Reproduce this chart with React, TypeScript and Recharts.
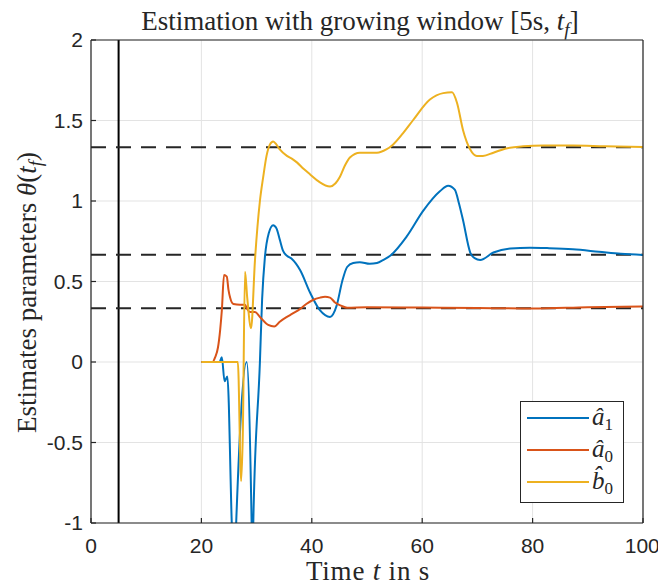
import {
    LineChart,
    Line,
    XAxis,
    YAxis,
    CartesianGrid,
    ReferenceLine,
    Legend
} from 'recharts';

// time stamps and estimates
const a1Time = [20, 22.5, 23.3, 23.7, 24.2, 24.7, 25.5, 25.9, 26.3, 28.2, 29.1, 29.25, 29.4, 30.6, 31.0, 31.5, 32.2, 33.0, 33.6, 34.2, 34.8, 35.5, 36.4, 37.9, 39.7, 41.5, 43.3, 44.5, 45.5, 46.4, 47.5, 48.7, 50.5, 51.8, 53, 54.2, 57.2, 60.2, 63.2, 64.7, 65.9, 66.7, 67.4, 68.7, 69.5, 70.5, 72.9, 76, 79.5, 83, 87.3, 92, 96, 100];
const a1Values = [0, 0, 0, 0.03, -0.12, -0.09, -1.0, -1.4, -1.0, 0, -1.0, -1.3, -1.0, 0, 0.39, 0.65, 0.8, 0.85, 0.83, 0.76, 0.69, 0.66, 0.64, 0.57, 0.43, 0.32, 0.28, 0.35, 0.5, 0.59, 0.615, 0.62, 0.61, 0.615, 0.635, 0.66, 0.78, 0.94, 1.06, 1.095, 1.07, 0.98, 0.88, 0.68, 0.645, 0.634, 0.68, 0.705, 0.71, 0.707, 0.7, 0.685, 0.672, 0.665];

const a0Time = [20, 22, 22.5, 23, 23.4, 23.7, 24.1, 24.6, 24.9, 25.2, 25.8, 27, 27.9, 28.3, 28.8, 29.7, 30.6, 32.1, 33.2, 34.2, 35.5, 36.5, 37.9, 39, 40.2, 41.5, 42.4, 43.3, 44.2, 45.3, 46.4, 50, 60, 70, 80, 90, 100];
const a0Values = [0, 0, 0.03, 0.09, 0.2, 0.32, 0.54, 0.53, 0.45, 0.4, 0.36, 0.355, 0.355, 0.33, 0.31, 0.31, 0.28, 0.23, 0.22, 0.25, 0.28, 0.3, 0.33, 0.36, 0.385, 0.4, 0.405, 0.4, 0.37, 0.35, 0.337, 0.34, 0.338, 0.336, 0.332, 0.34, 0.345];

const b0Time = [20, 26.6, 27.2, 27.5, 27.9, 28.3, 29.0, 29.7, 30.6, 31.2, 31.8, 32.4, 33.0, 33.6, 34.2, 35.5, 36.5, 37.3, 38.5, 39.7, 41.3, 43.3, 44.3, 45.1, 46.0, 46.9, 48.7, 51.8, 53.5, 54.7, 56.5, 58.3, 61.4, 63.8, 65.4, 66.3, 67.4, 68.7, 69.9, 71, 72.9, 75, 78.3, 82, 87.3, 93, 100];
const b0Values = [0, 0, -0.74, -0.45, 0.56, 0.4, 0.21, 0.63, 1.0, 1.15, 1.28, 1.35, 1.37, 1.35, 1.32, 1.28, 1.26, 1.24, 1.2, 1.165, 1.12, 1.09, 1.11, 1.15, 1.22, 1.27, 1.3, 1.3, 1.32, 1.35, 1.42, 1.5, 1.63, 1.67, 1.675, 1.61, 1.44, 1.32, 1.28, 1.28, 1.3, 1.325, 1.34, 1.345, 1.345, 1.34, 1.335];

const trueValues = [2 / 3, 1 / 3, 4 / 3];
const windowStart = 5;
const xTicks = [0, 20, 40, 60, 80, 100];
const yTicks = [-1, -0.5, 0, 0.5, 1, 1.5, 2];

const toPoints = (ts: number[], vs: number[]) => ts.map((t, i) => ({ t, v: vs[i] }));
const a1Data = toPoints(a1Time, a1Values);
const a0Data = toPoints(a0Time, a0Values);
const b0Data = toPoints(b0Time, b0Values);

const axisColor = '#262626';
const serif = '"Liberation Serif", "DejaVu Serif", serif';
const sans = '"Liberation Sans", Arial, sans-serif';
const tickStyle = { fontFamily: sans, fontSize: 21, fill: axisColor };
const subStyle = { fontSize: 19, fontStyle: 'italic' as const, lineHeight: 0 };

const legendRows = [
    { color: '#0072BD', base: 'a\u0302', sub: '1' },
    { color: '#D95319', base: 'a\u0302', sub: '0' },
    { color: '#EDB120', base: 'b\u0302', sub: '0' }
];

function LegendBox() {
    return (
        <svg width={104} height={102} style={{ display: 'block' }}>
            <rect x={0.5} y={0.5} width={103} height={101} fill="#fff" stroke={axisColor} strokeWidth={1} />
            {legendRows.map((r, i) => {
                const y = 17 + i * 32;
                return (
                    <g key={i}>
                        <line x1={7} x2={69} y1={y} y2={y} stroke={r.color} strokeWidth={2} />
                        <text x={72} y={y + 7} fontFamily={serif} fontSize={25} fill={axisColor}>
                            <tspan fontStyle="italic">{r.base}</tspan>
                            <tspan fontSize={17} dy={5}>{r.sub}</tspan>
                        </text>
                    </g>
                );
            })}
        </svg>
    );
}

export default function App() {
    return (
        <div style={{ position: 'absolute', left: 0, top: 0, width: 658, height: 586, background: '#fff' }}>
            <div
                style={{
                    position: 'absolute', left: 360 - 300, width: 600, top: 8, textAlign: 'center',
                    fontFamily: serif, fontSize: 27, lineHeight: '27px', color: axisColor, whiteSpace: 'nowrap'
                }}
            >
                Estimation with growing window [5s, <i>t</i><sub style={subStyle}>f</sub>]
            </div>
            <div
                style={{
                    position: 'absolute', left: 368 - 100, width: 200, top: 558, textAlign: 'center',
                    fontFamily: serif, fontSize: 27, lineHeight: '27px', color: axisColor, letterSpacing: 0.8,
                    whiteSpace: 'nowrap'
                }}
            >
                Time <i>t</i> in s
            </div>
            <div
                style={{
                    position: 'absolute', left: 27 - 200, top: 292 - 13.5, width: 400, height: 27, textAlign: 'center',
                    transform: 'rotate(-90deg)', fontFamily: serif, fontSize: 27, color: axisColor, lineHeight: '27px',
                    whiteSpace: 'nowrap'
                }}
            >
                Estimates parameters <i>θ</i>(<i>t</i><sub style={subStyle}>f</sub>)
            </div>
            <LineChart width={658} height={586} margin={{ top: 39, right: 14, bottom: 33, left: 31 }}>
                <CartesianGrid stroke="#e3e3e3" strokeWidth={1} />
                <XAxis
                    dataKey="t"
                    type="number"
                    domain={[0, 100]}
                    ticks={xTicks}
                    allowDataOverflow
                    height={30}
                    tickSize={-5}
                    tickMargin={20}
                    stroke={axisColor}
                    strokeWidth={1.2}
                    tick={tickStyle}
                />
                <XAxis
                    xAxisId="top"
                    orientation="top"
                    type="number"
                    domain={[0, 100]}
                    ticks={xTicks}
                    height={1}
                    tickSize={-5}
                    tick={false}
                    stroke={axisColor}
                    strokeWidth={1.2}
                />
                <YAxis
                    type="number"
                    domain={[-1, 2]}
                    ticks={yTicks}
                    allowDataOverflow
                    width={60}
                    tickSize={-5}
                    tickMargin={13}
                    stroke={axisColor}
                    strokeWidth={1.2}
                    tick={tickStyle}
                />
                <YAxis
                    yAxisId="right"
                    orientation="right"
                    type="number"
                    domain={[-1, 2]}
                    ticks={yTicks}
                    width={1}
                    tickSize={-5}
                    tick={false}
                    stroke={axisColor}
                    strokeWidth={1.2}
                />
                <ReferenceLine x={windowStart} stroke="#000" strokeWidth={2} />
                {trueValues.map((v) => (
                    <ReferenceLine key={v} y={v} stroke={axisColor} strokeWidth={2} strokeDasharray="15 10" />
                ))}
                <Line data={a1Data} dataKey="v" type="monotone" stroke="#0072BD" strokeWidth={2} dot={false} isAnimationActive={false} />
                <Line data={a0Data} dataKey="v" type="monotone" stroke="#D95319" strokeWidth={2} dot={false} isAnimationActive={false} />
                <Line data={b0Data} dataKey="v" type="monotone" stroke="#EDB120" strokeWidth={2} dot={false} isAnimationActive={false} />
                <Legend
                    layout="vertical"
                    align="center"
                    verticalAlign="middle"
                    content={() => <LegendBox />}
                    wrapperStyle={{ position: 'absolute', left: 520, top: 401, width: 104, height: 102 }}
                />
            </LineChart>
        </div>
    );
}
